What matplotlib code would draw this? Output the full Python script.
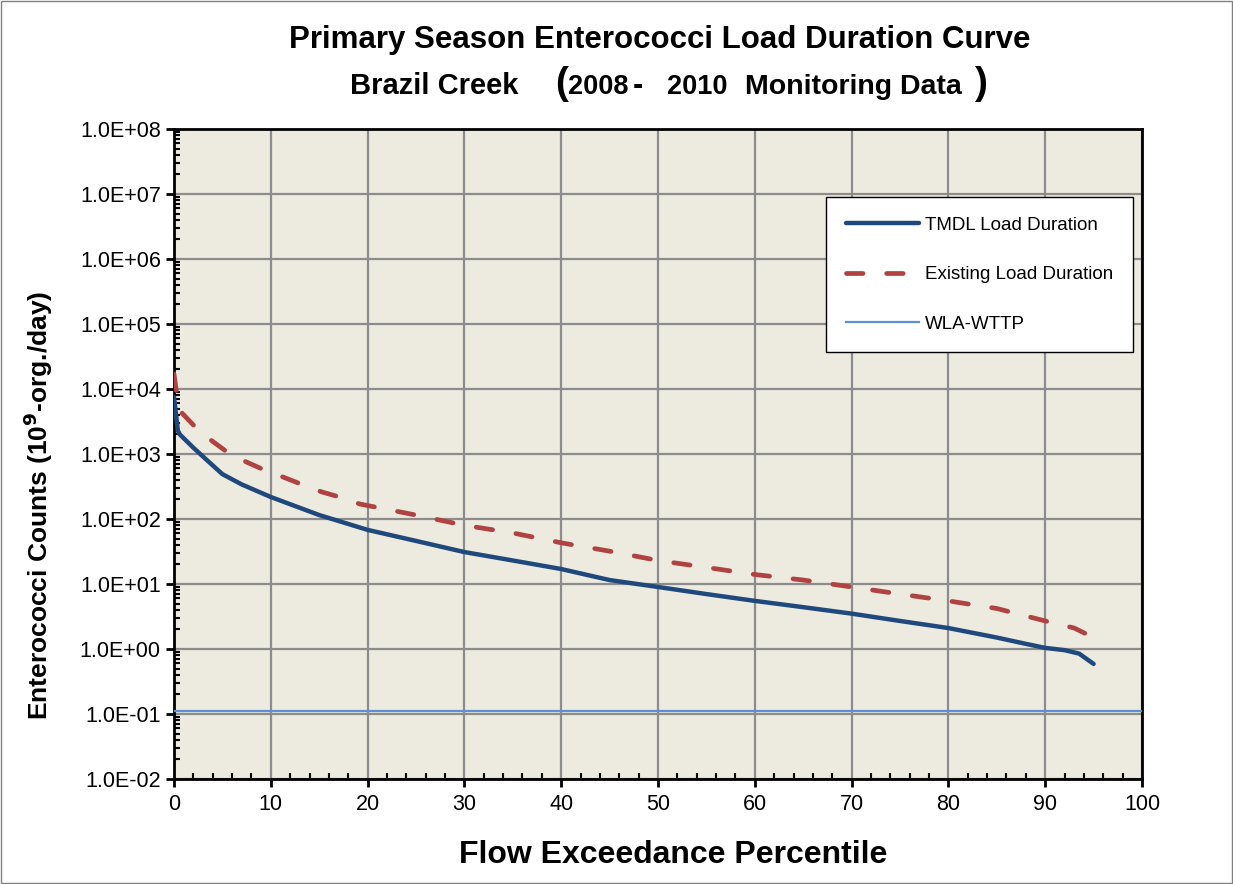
import matplotlib
matplotlib.use("Agg")
import matplotlib.pyplot as plt
from matplotlib.ticker import FixedLocator, LogLocator, NullFormatter, FuncFormatter
from matplotlib.patches import Rectangle

# values
tmdl_x = [0, 0.4, 0.6, 2, 3.5, 5, 7, 10, 15, 20, 25, 30, 35, 40, 45, 50, 55,
          60, 65, 70, 75, 80, 85, 88, 90, 92, 93.5, 95]
tmdl_y = [7500, 2300, 2000, 1250, 780, 490, 340, 218, 115, 68, 46, 31, 23,
          17, 11.5, 9, 7, 5.5, 4.4, 3.5, 2.7, 2.1, 1.5, 1.2, 1.04, 0.96, 0.85, 0.59]

exist_x = [0, 0.3, 0.8, 2.2, 3.9, 5.5, 7.5, 9.2, 11.3, 13, 15.3, 17, 19.2, 25,
           30, 35, 40, 45, 50, 55, 60, 65, 70, 75, 80, 85, 90, 93, 95]
exist_y = [17000, 8000, 4300, 2600, 1600, 1070, 750, 580, 440, 350, 260, 220,
           170, 115, 80, 61, 43, 32, 23, 18, 14, 11.5, 9, 7, 5.5, 4.2, 2.7, 2.1, 1.5]

wla_x = [0, 100]
wla_y = [0.11, 0.11]

plt.rcParams['font.family'] = ['Liberation Sans', 'DejaVu Sans']

W, H = 1233, 884
fig = plt.figure(figsize=(W / 100, H / 100), dpi=100)
fig.patches.append(Rectangle((0.001, 0.001), 0.998, 0.998, transform=fig.transFigure,
                             fill=False, edgecolor='#808080', linewidth=1))
ax = fig.add_axes([174 / W, 1 - 779 / H, 968 / W, 650 / H])
ax.set_facecolor('#EDEAE0')

ax.plot(tmdl_x, tmdl_y, color='#1F497D', linewidth=3.2, solid_capstyle='round',
        solid_joinstyle='round', label='TMDL Load Duration', zorder=3)
ax.plot(exist_x, exist_y, color='#B04342', linewidth=3.4, dashes=(3.5, 5),
        dash_capstyle='round', label='Existing Load Duration', zorder=3)
ax.plot(wla_x, wla_y, color='#5B8FD6', linewidth=1.6, label='WLA-WTTP', zorder=3)

ax.set_yscale('log')
ax.set_ylim(1e-2, 1e8)
ax.set_xlim(0, 100)
ax.xaxis.set_major_locator(FixedLocator(range(0, 101, 10)))
ax.xaxis.set_minor_locator(FixedLocator(range(0, 101, 2)))
ax.yaxis.set_major_locator(LogLocator(base=10, numticks=20))
ax.yaxis.set_minor_locator(LogLocator(base=10, subs=range(2, 10), numticks=20))
ax.yaxis.set_minor_formatter(NullFormatter())
ax.yaxis.set_major_formatter(FuncFormatter(lambda v, p: '%.1E' % v))

ax.grid(True, which='major', color='#8C8C8C', linewidth=1.6)
ax.set_axisbelow(True)
for s in ax.spines.values():
    s.set_linewidth(2)
ax.tick_params(which='major', direction='out', length=6, width=2, labelsize=15.5)
ax.tick_params(which='major', axis='x', pad=5)
ax.tick_params(which='minor', direction='in', length=4, width=1.5)

ax.set_xlabel('Flow Exceedance Percentile', fontsize=23, fontweight='bold', va='center')
ax.xaxis.set_label_coords((673 - 174) / 968, (779 - 855) / 650)
ax.set_ylabel('Enterococci Counts (10$^{\\mathbf{9}}$-org./day)', fontsize=19,
              fontweight='bold', va='center', ha='center')
ax.yaxis.set_label_coords((38 - 174) / 968, (779 - 505) / 650)

# title, line 1
fig.text(660 / W, 1 - 48 / H, 'Primary Season Enterococci Load Duration Curve',
         ha='center', va='baseline', fontsize=22.5, fontweight='bold')
# title, line 2 built from pieces (larger parentheses)
pieces = [(350, 'Brazil Creek', 21), (555, '(', 28), (568, '2008', 19.5),
          (633, '-', 22), (667, '2010', 19.5), (745, 'Monitoring Data', 20.5),
          (975, ')', 28)]
for px, txt, fs in pieces:
    fig.text(px / W, 1 - 94 / H, txt, ha='left', va='baseline',
             fontsize=fs, fontweight='bold')

leg = ax.legend(loc='upper right', bbox_to_anchor=(0.991, 0.895), fontsize=13.5,
                handlelength=3.9, handletextpad=0.35, labelspacing=1.72,
                borderpad=1.05, fancybox=False, framealpha=1, edgecolor='black',
                borderaxespad=0)
leg.get_frame().set_linewidth(1)

fig.savefig('out.png', dpi=100)
